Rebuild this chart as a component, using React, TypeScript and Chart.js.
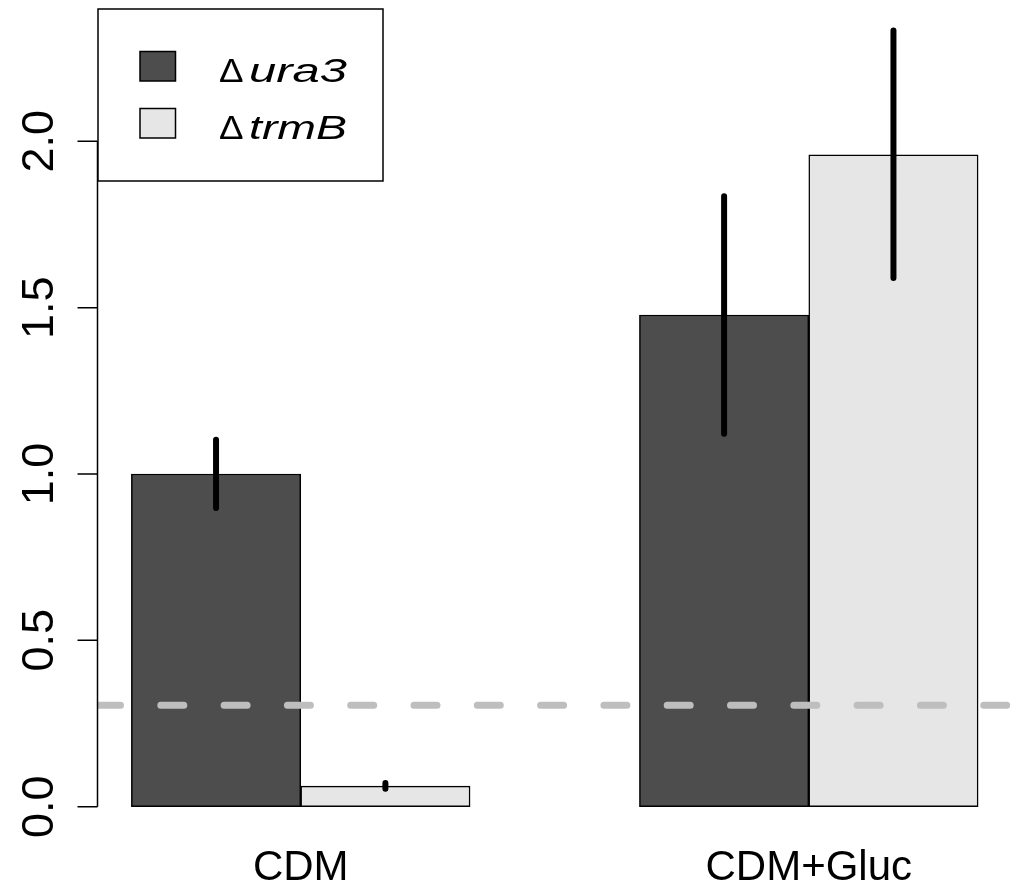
import React, { useEffect, useRef } from 'react';
import { Chart, registerables } from 'chart.js';

Chart.register(...registerables);

// ---- data ----
const CATEGORIES = ['CDM', 'CDM+Gluc'];
const SERIES_LABELS = ['ura3', 'trmB'];
const SERIES_COLORS = ['#4D4D4D', '#E6E6E6'];
const URA3_MEAN = [1.0, 1.478];
const URA3_LOW = [0.898, 1.121];
const URA3_HIGH = [1.103, 1.835];
const TRMB_MEAN = [0.062, 1.959];
const TRMB_LOW = [0.054, 1.589];
const TRMB_HIGH = [0.071, 2.333];
const THRESHOLD = 0.305;
const Y_TICKS = [0, 0.5, 1.0, 1.5, 2.0];
const Y_TICK_LABELS = ['0.0', '0.5', '1.0', '1.5', '2.0'];
const Y_MIN = -0.0902;
const Y_MAX = 2.3992;

// R barplot layout (beside=TRUE, space=c(0,1)): bar slot centre
const slot = (g: number, s: number) => 1 + g * 3 + s + 0.5;
const groupCenter = (g: number) => 1 + g * 3 + 1;
const X_SPAN_LO = 1;
const X_SPAN_HI = 1 + CATEGORIES.length * 3 - 1;
const X_PAD = 0.04 * (X_SPAN_HI - X_SPAN_LO);
const X_MIN = X_SPAN_LO - X_PAD;
const X_MAX = X_SPAN_HI + X_PAD;

const MEANS = [URA3_MEAN, TRMB_MEAN];
const LOWS = [URA3_LOW, TRMB_LOW];
const HIGHS = [URA3_HIGH, TRMB_HIGH];

const FONT = '"Liberation Sans", Arial, Helvetica, sans-serif';

const rAxisPlugin = {
  id: 'rAxis',
  afterDraw(chart: any) {
    const { ctx, chartArea } = chart;
    const y = chart.scales.y;
    const ax = chartArea.left;
    ctx.save();
    // y axis line and ticks
    ctx.strokeStyle = '#000';
    ctx.lineWidth = 1.5;
    ctx.beginPath();
    ctx.moveTo(ax, y.getPixelForValue(Y_TICKS[0]));
    ctx.lineTo(ax, y.getPixelForValue(Y_TICKS[Y_TICKS.length - 1]));
    Y_TICKS.forEach((v) => {
      const py = y.getPixelForValue(v);
      ctx.moveTo(ax, py);
      ctx.lineTo(ax - 20, py);
    });
    ctx.stroke();
    // y tick labels (rotated, R las=0)
    ctx.fillStyle = '#000';
    ctx.font = `45px ${FONT}`;
    ctx.textAlign = 'center';
    ctx.textBaseline = 'alphabetic';
    Y_TICKS.forEach((v, i) => {
      const py = y.getPixelForValue(v);
      ctx.save();
      ctx.translate(ax - 44.5, py);
      ctx.rotate(-Math.PI / 2);
      ctx.fillText(Y_TICK_LABELS[i], 0, 0);
      ctx.restore();
    });

    // legend (topleft)
    const lx = chartArea.left + 0.5;
    const ly = chartArea.top + 0.5;
    const lw = 285;
    const lh = 172;
    ctx.fillStyle = '#fff';
    ctx.fillRect(lx, ly, lw, lh);
    ctx.lineWidth = 1.5;
    ctx.strokeStyle = '#000';
    ctx.strokeRect(lx, ly, lw, lh);
    SERIES_LABELS.forEach((label, i) => {
      const rowTop = ly + 42.5 + i * 57;
      ctx.fillStyle = SERIES_COLORS[i];
      ctx.fillRect(lx + 42, rowTop, 35.5, 29.5);
      ctx.strokeStyle = '#000';
      ctx.lineWidth = 1.5;
      ctx.strokeRect(lx + 42, rowTop, 35.5, 29.5);
      const base = rowTop + 30.5;
      ctx.fillStyle = '#000';
      ctx.textAlign = 'left';
      ctx.font = `34px ${FONT}`;
      ctx.save();
      ctx.translate(lx + 121, base);
      ctx.scale(1.08, 1);
      ctx.fillText('\u0394', 0, 0);
      ctx.restore();
      ctx.font = `italic 33px ${FONT}`;
      const w = ctx.measureText(label).width;
      ctx.save();
      ctx.translate(lx + 151, base);
      ctx.scale(98 / w, 1);
      ctx.fillText(label, 0, 0);
      ctx.restore();
    });
    ctx.restore();
  },
};

export default function App() {
  const canvasRef = useRef<HTMLCanvasElement | null>(null);

  useEffect(() => {
    if (!canvasRef.current) return;

    const barDatasets = SERIES_LABELS.map((label, s) => ({
      type: 'bar' as const,
      label,
      data: CATEGORIES.map((_, g) => ({ x: slot(g, s), y: MEANS[s][g] })),
      backgroundColor: SERIES_COLORS[s],
      borderColor: '#000',
      borderWidth: 1.5,
      borderSkipped: false,
      grouped: false,
      barPercentage: 1,
      categoryPercentage: 1,
      order: 2,
    }));

    const errData: any[] = [];
    SERIES_LABELS.forEach((_, s) => {
      CATEGORIES.forEach((__, g) => {
        errData.push({ x: slot(g, s), y: LOWS[s][g] });
        errData.push({ x: slot(g, s), y: HIGHS[s][g] });
        errData.push({ x: slot(g, s), y: null });
      });
    });

    const chart = new Chart(canvasRef.current, {
      type: 'bar',
      data: {
        datasets: [
          {
            type: 'line' as const,
            label: 'errors',
            data: errData,
            borderColor: '#000',
            borderWidth: 6,
            borderCapStyle: 'round',
            pointRadius: 0,
            spanGaps: false,
            fill: false,
            order: 0,
          },
          {
            type: 'line' as const,
            label: 'threshold',
            data: [
              { x: X_MIN, y: THRESHOLD },
              { x: X_MAX, y: THRESHOLD },
            ],
            borderColor: '#BEBEBE',
            borderWidth: 7,
            borderCapStyle: 'round',
            borderDash: [23, 40.3],
            pointRadius: 0,
            fill: false,
            clip: 0,
            order: 1,
          },
          ...barDatasets,
        ] as any,
      },
      options: {
        animation: false,
        responsive: true,
        maintainAspectRatio: false,
        layout: { padding: { top: 8.5, right: 6, left: 0, bottom: 0 } },
        plugins: {
          legend: { display: false },
          tooltip: { enabled: false },
        },
        scales: {
          x: {
            type: 'linear',
            min: X_MIN,
            max: X_MAX,
            offset: false,
            grid: { display: false, offset: false },
            border: { display: false },
            afterBuildTicks: (scale: any) => {
              scale.ticks = CATEGORIES.map((_, g) => ({ value: groupCenter(g) }));
            },
            afterFit: (scale: any) => {
              scale.height = 44.3;
            },
            ticks: {
              autoSkip: false,
              maxRotation: 0,
              minRotation: 0,
              padding: -1,
              color: '#000',
              font: { family: FONT, size: 42 },
              callback: (_v: any, i: number) => CATEGORIES[i],
            },
          },
          y: {
            type: 'linear',
            min: Y_MIN,
            max: Y_MAX,
            grid: { display: false },
            border: { display: false },
            ticks: { display: false },
            afterFit: (scale: any) => {
              scale.width = 97.5;
            },
          },
        },
      } as any,
      plugins: [rAxisPlugin],
    });

    return () => chart.destroy();
  }, []);

  return (
    <div style={{ position: 'fixed', left: 0, top: 0, width: '1018px', height: '881px', background: '#fff' }}>
      <canvas ref={canvasRef} />
    </div>
  );
}
